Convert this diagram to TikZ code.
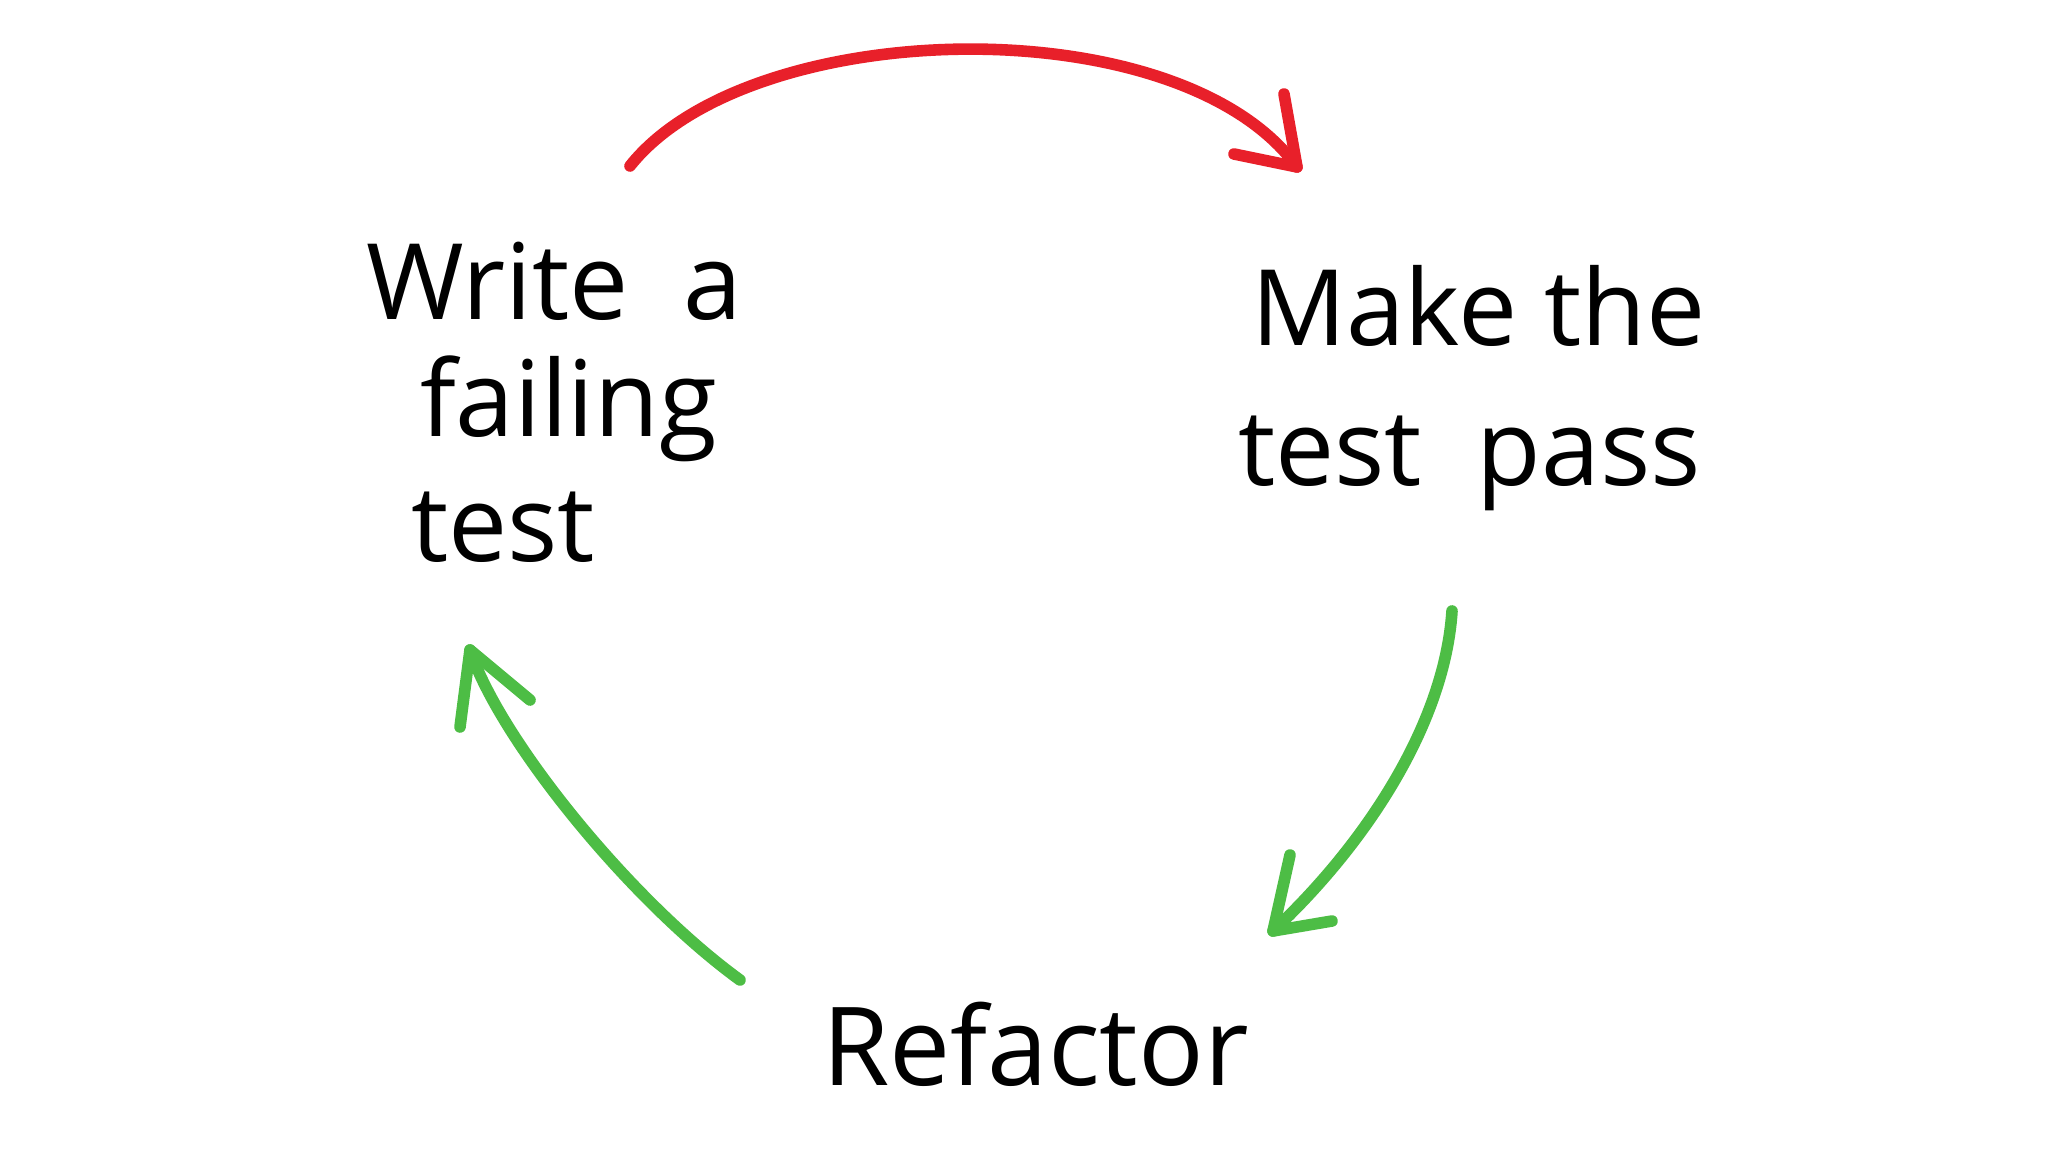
\documentclass[tikz,border=0pt]{standalone}
\usepackage{fontspec}
\setmainfont{Open Sans}
\definecolor{tddred}{HTML}{E8202A}
\definecolor{tddgreen}{HTML}{4DBD45}
\begin{document}
\begin{tikzpicture}[x=0.01cm,y=-0.01cm,
  label/.style={inner sep=0pt,outer sep=0pt,anchor=base west,font=\fontsize{30}{36}\selectfont,text=black},
  stroke/.style={line width=3.3pt,line cap=round,line join=round}]
\useasboundingbox[fill=white] (0,0) rectangle (2048,1152);
% texts
\node[label] (write1) at (366,320) {Write\ \ a};
\node[label] (write2) at (420,437) {failing};
\node[label] (write3) at (411,562) {test};
\node[label] (pass1) at (1251,346) {Make the};
\node[label] (pass2) at (1238,486) {test\ \ pass};
\node[label,font=\fontsize{31}{37}\selectfont] (refactor) at (822,1085) {Refactor};
% connector end points
\coordinate (r1) at (630,166);
\coordinate (r2) at (1297,167);
\coordinate (g1) at (1452,611);
\coordinate (g2) at (1273,931);
\coordinate (h1) at (740,980);
\coordinate (h2) at (470,650);
% red arrow: write -> pass
\draw[stroke,tddred] (r1) .. controls (750,15) and (1180,5) .. (r2);
\draw[stroke,tddred] (1234,154) -- (r2) -- (1284,94);
% green arrow: pass -> refactor
\draw[stroke,tddgreen] (g1) .. controls (1445,720) and (1370,840) .. (g2);
\draw[stroke,tddgreen] (1290,855) -- (g2) -- (1332,921);
% green arrow: refactor -> write
\draw[stroke,tddgreen] (h1) .. controls (630,900) and (500,740) .. (h2);
\draw[stroke,tddgreen] (460,727) -- (h2) -- (530,700);
\end{tikzpicture}
\end{document}
